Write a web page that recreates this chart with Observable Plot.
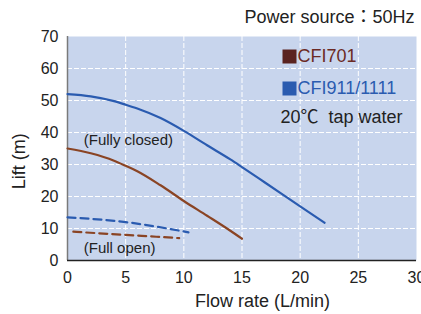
<!DOCTYPE html>
<html>
<head>
<meta charset="utf-8">
<script src="https://cdn.jsdelivr.net/npm/d3@7"></script>
<script src="https://cdn.jsdelivr.net/npm/@observablehq/plot@0.6"></script>
<style>
  body { margin: 0; background: #fff; }
  #chart { width: 421px; height: 314px; overflow: hidden; }
</style>
</head>
<body>
<div id="chart"></div>
<script>
// Flow rate (L/min) vs lift (m)
const cfi701ClosedX = [0, 2, 4, 5, 6, 8, 10, 12, 14, 15];
const cfi701ClosedY = [35, 33.5, 31.2, 29.6, 27.9, 23.5, 18.6, 14, 9.3, 6.8];
const cfi911ClosedX = [0, 2, 4, 5, 6, 8, 10, 12, 14, 15, 17, 20, 22.1];
const cfi911ClosedY = [52, 51.3, 49.8, 48.7, 47.5, 44.5, 40.5, 36, 31.6, 29.2, 24.3, 16.9, 11.8];
const cfi701OpenX = [0.5, 5, 9.6];
const cfi701OpenY = [9, 8, 7];
const cfi911OpenX = [0, 5, 10.4];
const cfi911OpenY = [13.5, 12, 8.8];

const seriesNames = ["CFI701", "CFI911/1111"];
const seriesColors = ["#8a4424", "#2a5bb0"];
const legendTextColors = ["#6b2a24", "#2a5bb0"];
const legendSquareColors = ["#5a2320", "#2a5bb0"];

const xTicks = [0, 5, 10, 15, 20, 25, 30];
const yTicks = [0, 10, 20, 30, 40, 50, 60, 70];

const annotations = [
  {x: 1.4, y: 37.5, text: "(Fully closed)"},
  {x: 1.4, y: 4, text: "(Full open)"}
];
const titleText = "Power source：50Hz";
const noteText = "20℃  tap water";
const xLabel = "Flow rate (L/min)";
const yLabel = "Lift (m)";
const yLabelAt = 31; // vertical centre of the rotated y-axis title, in lift units

const toRows = (xs, ys, series) => xs.map((x, i) => ({x, y: ys[i], series}));
const solid = [
  ...toRows(cfi701ClosedX, cfi701ClosedY, seriesNames[0]),
  ...toRows(cfi911ClosedX, cfi911ClosedY, seriesNames[1])
];
const dashed = [
  ...toRows(cfi701OpenX, cfi701OpenY, seriesNames[0]),
  ...toRows(cfi911OpenX, cfi911OpenY, seriesNames[1])
];

const FONT = "'Liberation Sans', Arial, 'Noto Sans CJK JP', sans-serif";
const legendMarks = seriesNames.flatMap((name, i) => [
  Plot.dot([name], {frameAnchor: "top-left", dx: 222, dy: 20 + i * 32, symbol: "square", r: 7.9, fill: legendSquareColors[i], stroke: null}),
  Plot.text([name], {frameAnchor: "top-left", lineAnchor: "middle", text: d => d, dx: 230, dy: 20 + i * 32, fill: legendTextColors[i], fontSize: 18, textAnchor: "start"})
]);

const plot = Plot.plot({
  width: 421,
  height: 314,
  marginLeft: 67,
  marginRight: 5,
  marginTop: 36,
  marginBottom: 54,
  style: `font-family: ${FONT}; font-size: 16px; color: #222; background: #fff; overflow: visible;`,
  x: {domain: [0, 30], ticks: xTicks},
  y: {domain: [0, 70], ticks: yTicks},
  color: {domain: seriesNames, range: seriesColors},
  marks: [
    Plot.frame({fill: "#c8d5ed", stroke: null}),
    Plot.gridX(xTicks.slice(1, -1), {stroke: "#fff", strokeOpacity: 1, strokeDasharray: "5,2", strokeWidth: 1}),
    Plot.gridY(yTicks.slice(1, -1), {stroke: "#fff", strokeOpacity: 1, strokeDasharray: "5,2", strokeWidth: 1}),
    Plot.axisX({ticks: xTicks, tickSize: 0, tickPadding: 11, fontSize: 16, label: null, fill: "#222"}),
    Plot.axisY({ticks: yTicks, tickSize: 0, tickPadding: 9, fontSize: 16, label: null, fill: "#222"}),
    Plot.ruleX([0], {stroke: "#7a7a7a", strokeWidth: 1.5}),
    Plot.ruleY([0], {stroke: "#222", strokeWidth: 1.5}),
    Plot.line(solid, {x: "x", y: "y", z: "series", stroke: "series", strokeWidth: 2.2, curve: "monotone-x"}),
    Plot.line(dashed, {x: "x", y: "y", z: "series", stroke: "series", strokeWidth: 2.2, strokeDasharray: "8,5", curve: "monotone-x"}),
    Plot.text(annotations, {x: "x", y: "y", text: "text", textAnchor: "start", fontSize: 15, fill: "#222"}),
    ...legendMarks,
    Plot.text([noteText], {frameAnchor: "top-left", lineAnchor: "middle", text: d => d, dx: 213, dy: 81, fill: "#222", fontSize: 18, textAnchor: "start"}),
    Plot.text([titleText], {frameAnchor: "top-right", lineAnchor: "middle", text: d => d, dx: -2, dy: -19, fill: "#222", fontSize: 18, textAnchor: "end"}),
    Plot.text([xLabel], {frameAnchor: "bottom", lineAnchor: "middle", textAnchor: "middle", text: d => d, dx: 20.5, dy: 41, fill: "#222", fontSize: 18}),
    Plot.text([yLabel], {frameAnchor: "left", y: () => yLabelAt, lineAnchor: "middle", textAnchor: "middle", text: d => d, dx: -48, rotate: -90, fill: "#222", fontSize: 18})
  ]
});
document.getElementById("chart").appendChild(plot);
</script>
</body>
</html>
